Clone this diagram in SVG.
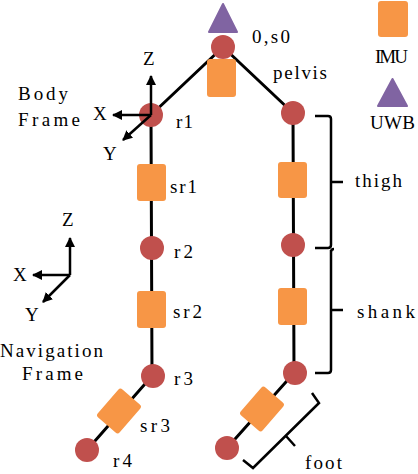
<svg xmlns="http://www.w3.org/2000/svg" width="418" height="474" viewBox="0 0 418 474">
<defs>
<marker id="ah" viewBox="0 0 10 10" refX="9" refY="5" markerWidth="10" markerHeight="10" markerUnits="userSpaceOnUse" orient="auto"><path d="M0,0 L10,5 L0,10 Z" fill="#000"/></marker>
</defs>
<style>
text{font-family:"Liberation Serif","Times New Roman",serif;font-size:19px;fill:#000}
.j{fill:#C0504D}
.imu{fill:#F79646}
.uwb{fill:#8064A2}
.ln{stroke:#000;stroke-width:3;fill:none}
.br{stroke:#000;stroke-width:2.5;fill:none}
.ax{stroke:#000;stroke-width:2.5;fill:none;marker-end:url(#ah)}
</style>
<rect width="418" height="474" fill="#fff"/>
<g id="connectors">
<path class="ln" d="M223,47 L151,115 M223,47 L293,113 M151,115 L152,376 L87,450 M293,113 L294,373 L227,448"/>
</g>
<g id="brackets">
<path class="br" d="M315,116 H328 Q331,116 331,119 V245 Q331,248 328,248 H315 M331,182 H343"/>
<path class="br" d="M331,252 Q331,249 334,249 M331,250 V370 Q331,373 328,373 H315 M331,310 H343"/>
<path class="br" d="M312,393 L319,403 L253,468 L243,460 M286,436 L295,446"/>
</g>
<g id="node-s0">
<rect class="imu" x="207" y="59" width="29" height="38" rx="3"/>
<circle class="j" cx="223" cy="47" r="12"/>
<path class="uwb" d="M223,4 L237,32 L209,32 Z" stroke="#8064A2" stroke-width="2" stroke-linejoin="round"/>
<text x="252" y="43" textLength="38">0,s0</text>
<text x="273" y="79" textLength="54">pelvis</text>
</g>
<g id="node-r1"><circle class="j" cx="151" cy="115" r="12"/><text x="176" y="128" textLength="17">r1</text></g>
<g id="node-sr1"><rect class="imu" x="137" y="164" width="29" height="37" rx="3"/><text x="170" y="193" textLength="27">sr1</text></g>
<g id="node-r2"><circle class="j" cx="152" cy="248" r="12"/><text x="174" y="258" textLength="19">r2</text></g>
<g id="node-sr2"><rect class="imu" x="137" y="291" width="29" height="37" rx="3"/><text x="173" y="318" textLength="29">sr2</text></g>
<g id="node-r3"><circle class="j" cx="153" cy="376" r="12"/><text x="174" y="385" textLength="19">r3</text></g>
<g id="node-sr3"><rect class="imu" x="-14.5" y="-18.5" width="29" height="37" rx="3" transform="translate(119,411) rotate(41)"/><text x="140" y="432" textLength="30">sr3</text></g>
<g id="node-r4"><circle class="j" cx="87" cy="450" r="12"/><text x="113" y="467" textLength="19">r4</text></g>
<g id="node-hip"><circle class="j" cx="293" cy="113" r="12"/></g>
<g id="node-thigh-imu"><rect class="imu" x="278" y="162" width="29" height="36" rx="3"/></g>
<g id="node-knee"><circle class="j" cx="293" cy="245" r="12"/></g>
<g id="node-shank-imu"><rect class="imu" x="278" y="288" width="29" height="37" rx="3"/></g>
<g id="node-ankle"><circle class="j" cx="295" cy="373" r="12"/></g>
<g id="node-foot-imu"><rect class="imu" x="-14.5" y="-18.5" width="29" height="37" rx="3" transform="translate(262,409) rotate(41)"/></g>
<g id="node-toe"><circle class="j" cx="227" cy="448" r="12"/></g>
<g id="labels">
<text x="355" y="187" textLength="47">thigh</text>
<text x="357" y="318" textLength="58">shank</text>
<text x="305" y="469" textLength="37">foot</text>
</g>
<g id="legend">
<rect class="imu" x="378" y="1" width="30" height="36" rx="3"/>
<text x="375" y="63" textLength="33">IMU</text>
<path class="uwb" d="M392.5,79 L407,106 L378,106 Z" stroke="#8064A2" stroke-width="2" stroke-linejoin="round"/>
<text x="370" y="129" textLength="45">UWB</text>
</g>
<g id="body-frame">
<path class="ax" d="M151,115 V76"/>
<path class="ax" d="M151,115 H113"/>
<path class="ax" d="M151,115 L123,140"/>
<text x="143" y="65">Z</text>
<text x="93" y="120">X</text>
<text x="103" y="160">Y</text>
<text x="18" y="100" textLength="50">Body</text>
<text x="18" y="126" textLength="62">Frame</text>
</g>
<g id="nav-frame">
<path class="ax" d="M70,275 V238"/>
<path class="ax" d="M70,275 H33"/>
<path class="ax" d="M70,275 L43,302"/>
<text x="62" y="226">Z</text>
<text x="13" y="281">X</text>
<text x="25" y="321">Y</text>
<text x="0" y="357" textLength="103">Navigation</text>
<text x="22" y="380" textLength="61">Frame</text>
</g>
</svg>
